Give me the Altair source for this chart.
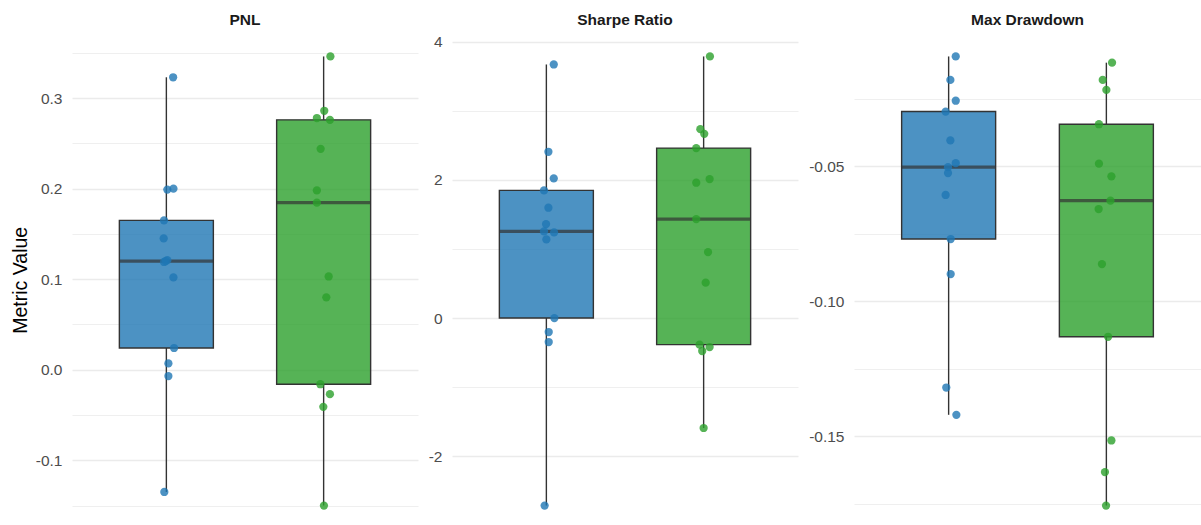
import altair as alt
import pandas as pd

# ---- data -------------------------------------------------------------
groups = ["A", "B"]
group_colors = ["#1f77b4", "#2ca02c"]

pnl_a = [0.323, 0.200, 0.199, 0.165, 0.145, 0.121, 0.120, 0.119, 0.102,
         0.024, 0.007, -0.007, -0.135]
pnl_a_jitter = [0.043, 0.045, 0.006, -0.015, -0.017, 0.006, -0.004, -0.015,
                0.045, 0.049, 0.013, 0.013, -0.013]
pnl_b = [0.346, 0.286, 0.278, 0.276, 0.244, 0.198, 0.1845, 0.103, 0.080,
         -0.016, -0.027, -0.041, -0.150]
pnl_b_jitter = [0.043, 0.004, -0.043, 0.040, -0.019, -0.043, -0.043, 0.032,
                0.017, -0.021, 0.040, -0.002, 0.002]

sharpe_a = [3.669, 2.406, 2.020, 1.847, 1.596, 1.359, 1.254, 1.239, 1.138,
            0.0, -0.202, -0.347, -2.713]
sharpe_a_jitter = [0.047, 0.013, 0.047, -0.015, 0.013, -0.002, -0.015, 0.049,
                   0.0, 0.051, 0.015, 0.015, -0.011]
sharpe_b = [3.785, 2.733, 2.666, 2.459, 2.011, 1.958, 1.432, 0.955, 0.512,
            -0.385, -0.419, -0.477, -1.591]
sharpe_b_jitter = [0.040, -0.021, 0.004, -0.047, 0.038, -0.047, -0.047, 0.028,
                   0.013, -0.026, 0.038, -0.009, 0.0]

mdd_a = [-0.0093, -0.0180, -0.0257, -0.0297, -0.0404, -0.0488, -0.0503,
         -0.0525, -0.0606, -0.0769, -0.0899, -0.1319, -0.1420]
mdd_a_jitter = [0.045, 0.011, 0.045, -0.019, 0.011, 0.045, -0.004, -0.004,
                -0.019, 0.013, 0.013, -0.015, 0.049]
mdd_b = [-0.0116, -0.0180, -0.0217, -0.0344, -0.0490, -0.0537, -0.0627,
         -0.0658, -0.0862, -0.1131, -0.1515, -0.1632, -0.1756]
mdd_b_jitter = [0.036, -0.023, 0.0, -0.047, -0.047, 0.032, 0.026, -0.049,
                -0.028, 0.011, 0.032, -0.009, -0.002]

# axis ticks: labelled major ticks and unlabelled minor grid lines
pnl_ticks = [-0.1, 0.0, 0.1, 0.2, 0.3]
pnl_tick_labels = ["-0.1", "0.0", "0.1", "0.2", "0.3"]
pnl_minor = [-0.15, -0.05, 0.05, 0.15, 0.25, 0.35]

sharpe_ticks = [-2, 0, 2, 4]
sharpe_tick_labels = ["-2", "0", "2", "4"]
sharpe_minor = [-3, -1, 1, 3]

mdd_ticks = [-0.15, -0.10, -0.05]
mdd_tick_labels = ["-0.15", "-0.10", "-0.05"]
mdd_minor = [-0.175, -0.125, -0.075, -0.025]

FONT = "Liberation Sans"
PLOT_H = 491.5          # visible plot height
FULL_H = 494.0          # height of the full expanded range
EXPAND = 0.05


def frame(a, a_jit, b, b_jit):
    rows = []
    for i, (vals, jit) in enumerate([(a, a_jit), (b, b_jit)]):
        for v, j in zip(vals, jit):
            rows.append({"group": groups[i], "value": v, "xpos": i + 1 + j})
    return pd.DataFrame(rows)


def panel(title, df, ticks, tick_labels, minor, width, extent,
          show_title=False):
    lo, hi = df["value"].min(), df["value"].max()
    span = (hi - lo) * (1 + 2 * EXPAND)
    top = hi + EXPAND * (hi - lo)
    bottom = top - span * PLOT_H / FULL_H

    label_expr = "".join(
        f"datum.value === {t} ? '{l}' : " for t, l in zip(ticks, tick_labels)
    ) + "''"
    major_test = "indexof([" + ",".join(str(t) for t in ticks) + "], datum.value) >= 0"

    y_axis = alt.Axis(
        values=sorted(ticks + minor),
        labelExpr=label_expr,
        grid=True,
        gridColor="#EBEBEB",
        gridWidth={"condition": {"test": major_test, "value": 1.4}, "value": 0.8},
        domain=False,
        ticks=False,
        labelPadding=10,
        labelFontSize=15.5,
        labelColor="#4D4D4D",
        labelFont=FONT,
        minExtent=extent,
        maxExtent=extent,
        title="Metric Value" if show_title else None,
        titleFontSize=19.5,
        titleFontWeight="normal",
        titleColor="#000000",
        titleFont=FONT,
        titlePadding=4,
    )
    y_scale = alt.Scale(domain=[bottom, top], nice=False, zero=False)
    color = alt.Color("group:N",
                      scale=alt.Scale(domain=groups, range=group_colors),
                      legend=None)

    base = alt.Chart(df)
    box = base.mark_boxplot(
        extent="min-max",
        size=94,
        box={"stroke": "#333333", "strokeWidth": 1.4, "fillOpacity": 0.8},
        median={"color": "#333333", "thickness": 3.3},
        rule={"color": "#333333", "strokeWidth": 1.4},
        ticks=False,
        outliers=False,
    ).encode(
        x=alt.X("group:N", scale=alt.Scale(type="point", padding=0.6,
                                           domain=groups), axis=None),
        y=alt.Y("value:Q", scale=y_scale, axis=y_axis),
        color=color,
    )
    points = base.mark_circle(size=68, opacity=0.8).encode(
        x=alt.X("xpos:Q", scale=alt.Scale(domain=[0.4, 2.6], nice=False,
                                          zero=False), axis=None),
        y=alt.Y("value:Q", scale=y_scale),
        color=color,
    )
    return alt.layer(box, points).resolve_scale(x="independent").properties(
        width=width,
        height=PLOT_H,
        title=alt.TitleParams(title, fontSize=15.5, fontWeight="bold",
                              font=FONT, color="#1A1A1A", anchor="middle",
                              baseline="top", offset=6),
    )


p1 = panel("PNL", frame(pnl_a, pnl_a_jitter, pnl_b, pnl_b_jitter),
           pnl_ticks, pnl_tick_labels, pnl_minor, 346, 38, show_title=True)
p2 = panel("Sharpe Ratio", frame(sharpe_a, sharpe_a_jitter, sharpe_b, sharpe_b_jitter),
           sharpe_ticks, sharpe_tick_labels, sharpe_minor, 346, 34)
p3 = panel("Max Drawdown", frame(mdd_a, mdd_a_jitter, mdd_b, mdd_b_jitter),
           mdd_ticks, mdd_tick_labels, mdd_minor, 347, 56)

chart = alt.hconcat(p1, p2, p3, spacing=0).properties(
    padding={"left": 10, "top": 12, "right": 0, "bottom": 0},
    background="white",
).configure(
    font=FONT,
    view=alt.ViewConfig(strokeWidth=0, stroke="transparent"),
)

chart.save("out.html", embed_options={"renderer": "svg", "actions": False})
